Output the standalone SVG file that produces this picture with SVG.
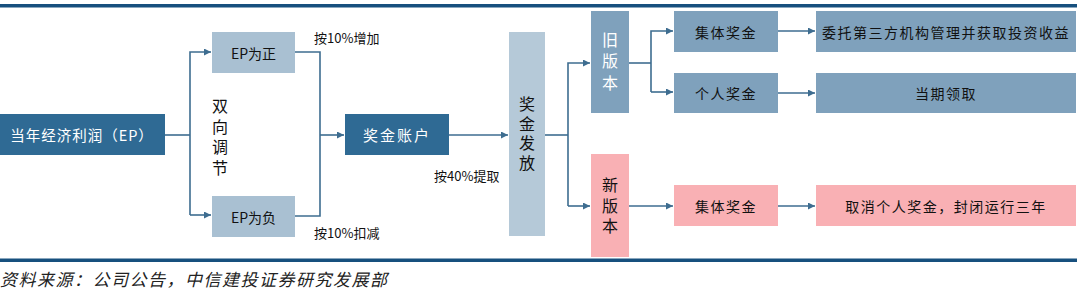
<svg xmlns="http://www.w3.org/2000/svg" width="1077" height="300" viewBox="0 0 1077 300">
<style>
text{font-family:"Noto Sans CJK SC","Liberation Sans",sans-serif;}
.dark{fill:#2F6A94;}
.mid{fill:#7FA1BC;}
.light{fill:#A9C0D2;}
.pale{fill:#B5C9D8;}
.pink{fill:#F9B0B4;}
.wt{fill:#ffffff;font-size:14px;text-anchor:middle;dominant-baseline:central;}
.bt{fill:#111;font-size:14px;text-anchor:middle;dominant-baseline:central;}
.lbl{fill:#111;font-size:13px;dominant-baseline:central;}
.vt{fill:#111;font-size:16px;text-anchor:middle;writing-mode:vertical-rl;}
.c{fill:none;stroke:#3E6D90;stroke-width:1.6;}
</style>
<defs>
<marker id="ah2" viewBox="0 0 10 10" refX="10" refY="5" markerWidth="7" markerHeight="7" orient="auto" markerUnits="userSpaceOnUse">
<path d="M0,0 L10,5 L0,10 z" fill="#3E6D90"/>
</marker>
</defs>
<rect x="0" y="4" width="1077" height="3.5" fill="#17507E"/>
<rect x="0" y="258.5" width="1077" height="3.5" fill="#17507E"/>

<g id="connectors">
<path class="c" d="M165,135 H190"/>
<path class="c" d="M190,215 V52 H211" marker-end="url(#ah2)"/>
<path class="c" d="M190,215 H211" marker-end="url(#ah2)"/>
<path class="c" d="M295,52 H320 V216 H295"/>
<path class="c" d="M320,135 H344" marker-end="url(#ah2)"/>
<path class="c" d="M449,135 H508" marker-end="url(#ah2)"/>
<path class="c" d="M545,135 H568"/>
<path class="c" d="M568,206 V63 H590" marker-end="url(#ah2)"/>
<path class="c" d="M568,206 H590" marker-end="url(#ah2)"/>
<path class="c" d="M629,63 H651"/>
<path class="c" d="M651,92 V31 H673" marker-end="url(#ah2)"/>
<path class="c" d="M651,92 H673" marker-end="url(#ah2)"/>
<path class="c" d="M778,31 H815" marker-end="url(#ah2)"/>
<path class="c" d="M778,93 H815" marker-end="url(#ah2)"/>
<path class="c" d="M629,206 H673" marker-end="url(#ah2)"/>
<path class="c" d="M778,206 H815" marker-end="url(#ah2)"/>
</g>

<g id="ep"><rect class="dark" x="0" y="114" width="165" height="41"/><text class="wt" x="82" y="134.5" style="font-size:14.5px;letter-spacing:1px">当年经济利润（EP）</text></g>
<g id="ep-pos"><rect class="light" x="212" y="32" width="83" height="41"/><text class="bt" x="253.5" y="52.5">EP为正</text></g>
<g id="ep-neg"><rect class="light" x="212" y="196" width="83" height="41"/><text class="bt" x="253.5" y="216.5">EP为负</text></g>
<g id="two-way"><text class="vt" x="220" y="139" style="letter-spacing:4.5px">双向调节</text></g>
<g id="lbl-inc"><text class="lbl" x="314" y="37">按10%增加</text></g>
<g id="lbl-dec"><text class="lbl" x="314" y="232">按10%扣减</text></g>
<g id="account"><rect class="dark" x="345" y="114" width="104" height="41"/><text class="wt" x="397" y="134.5" style="font-size:15px;letter-spacing:2px">奖金账户</text></g>
<g id="lbl-40"><text class="lbl" x="434" y="175">按40%提取</text></g>
<g id="payout"><rect class="pale" x="509" y="32" width="36" height="204"/><text class="vt" x="527" y="135" style="letter-spacing:3.5px">奖金发放</text></g>
<g id="old"><rect class="mid" x="591" y="11" width="38" height="102"/><text class="vt" x="610" y="64" style="fill:#fff;letter-spacing:5.5px">旧版本</text></g>
<g id="new"><rect class="pink" x="591" y="154" width="38" height="103"/><text class="vt" x="610" y="208" style="letter-spacing:4.5px">新版本</text></g>
<g id="old-group"><rect class="mid" x="674" y="11" width="104" height="41"/><text class="bt" x="726" y="31.5" style="letter-spacing:1.5px">集体奖金</text></g>
<g id="old-indiv"><rect class="mid" x="674" y="73" width="104" height="40"/><text class="bt" x="726" y="93" style="letter-spacing:1.5px">个人奖金</text></g>
<g id="old-group-out"><rect class="mid" x="816" y="11" width="260" height="41"/><text class="bt" x="946" y="31.5" style="letter-spacing:1.5px">委托第三方机构管理并获取投资收益</text></g>
<g id="old-indiv-out"><rect class="mid" x="816" y="73" width="260" height="40"/><text class="bt" x="946" y="93" style="letter-spacing:1.5px">当期领取</text></g>
<g id="new-group"><rect class="pink" x="674" y="185" width="104" height="41"/><text class="bt" x="726" y="205.5" style="letter-spacing:1.5px">集体奖金</text></g>
<g id="new-group-out"><rect class="pink" x="816" y="185" width="260" height="41"/><text class="bt" x="946" y="205.5" style="letter-spacing:1.5px">取消个人奖金，封闭运行三年</text></g>
<text x="0" y="286" style="font-size:17px;font-style:italic;fill:#222;letter-spacing:1.5px">资料来源：公司公告，中信建投证券研究发展部</text>
</svg>
